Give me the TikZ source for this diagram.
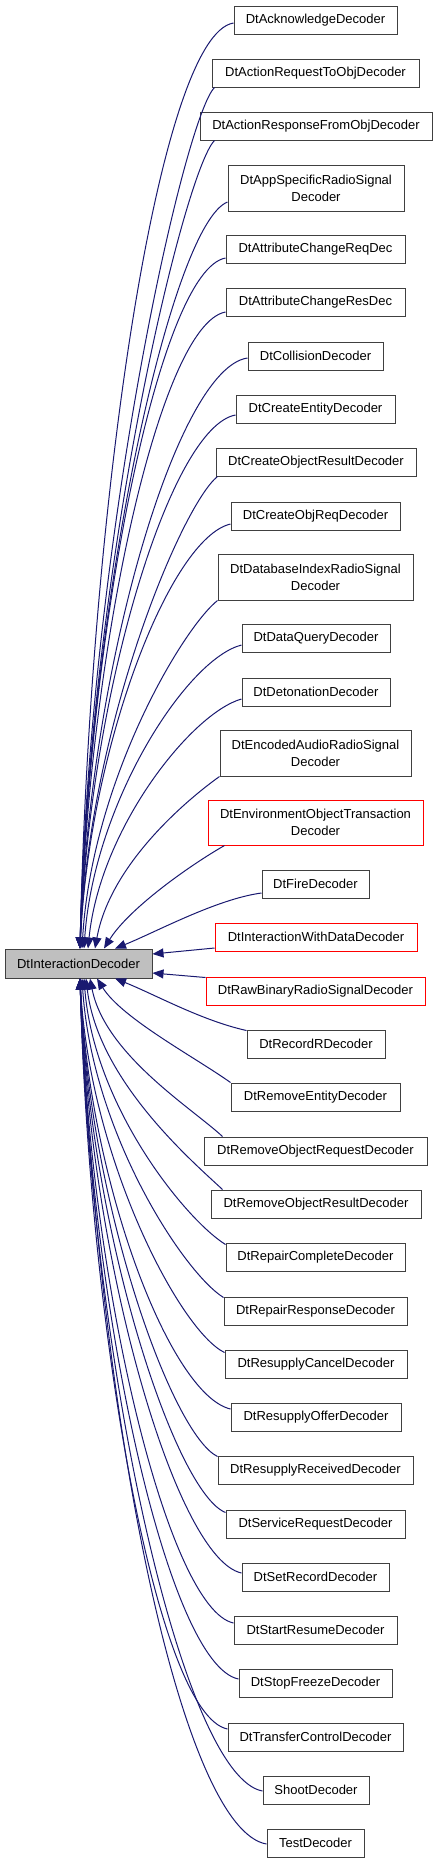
\documentclass[tikz,border=0pt]{standalone}
\usepackage{fontspec}
\setmainfont{Liberation Sans}
\usetikzlibrary{arrows.meta,calc}
\definecolor{edgec}{HTML}{191970}
\definecolor{boxc}{HTML}{404040}
\definecolor{parentfill}{HTML}{BFBFBF}
\tikzset{
  box/.style={draw=boxc, line width=1pt, fill=white, rectangle, inner sep=0pt,
    minimum height=28pt, align=center, font=\fontsize{13}{16.7}\selectfont},
  dbox/.style={box, minimum height=46pt},
  redbox/.style={draw=red},
  parentbox/.style={box, fill=parentfill, minimum height=29pt},
  edge/.style={draw=edgec, line width=1pt, arrows={Triangle[length=11pt,width=9pt]-}}
}
\begin{document}
\begin{tikzpicture}[x=1pt,y=-1pt]
\useasboundingbox (0,0) rectangle (437,1864);
% parent
\node[parentbox, minimum width=147] (P) at (78.5,963.5) {DtInteractionDecoder};
% children
\node[box, minimum width=163] (ack) at (315.5,20) {DtAcknowledgeDecoder};
\node[box, minimum width=207] (areq) at (315.5,73) {DtActionRequestToObjDecoder};
\node[box, minimum width=232] (aresp) at (316,126) {DtActionResponseFromObjDecoder};
\node[dbox, minimum width=176] (app) at (316,188) {DtAppSpecificRadioSignal\\Decoder};
\node[box, minimum width=179] (attrq) at (315.5,249) {DtAttributeChangeReqDec};
\node[box, minimum width=179] (attrs) at (315.5,302) {DtAttributeChangeResDec};
\node[box, minimum width=135] (coll) at (315.5,356) {DtCollisionDecoder};
\node[box, minimum width=159] (cent) at (315.5,409) {DtCreateEntityDecoder};
\node[box, minimum width=200] (cobjres) at (316,462) {DtCreateObjectResultDecoder};
\node[box, minimum width=169] (cobjreq) at (315.5,516) {DtCreateObjReqDecoder};
\node[dbox, minimum width=195] (dbi) at (315.5,577) {DtDatabaseIndexRadioSignal\\Decoder};
\node[box, minimum width=148] (dq) at (316,638) {DtDataQueryDecoder};
\node[box, minimum width=148] (det) at (316,692) {DtDetonationDecoder};
\node[dbox, minimum width=191] (enc) at (315.5,753) {DtEncodedAudioRadioSignal\\Decoder};
\node[dbox, redbox, minimum width=215, minimum height=45pt] (env) at (315.5,822.5) {DtEnvironmentObjectTransaction\\Decoder};
\node[box, minimum width=107] (fire) at (315.5,884) {DtFireDecoder};
\node[box, redbox, minimum width=202] (iwd) at (316,937) {DtInteractionWithDataDecoder};
\node[box, redbox, minimum width=219] (raw) at (315.5,991) {DtRawBinaryRadioSignalDecoder};
\node[box, minimum width=138] (recr) at (316,1044) {DtRecordRDecoder};
\node[box, minimum width=169] (rement) at (315.5,1097) {DtRemoveEntityDecoder};
\node[box, minimum width=223] (remoq) at (315.5,1151) {DtRemoveObjectRequestDecoder};
\node[box, minimum width=210] (remor) at (316,1204) {DtRemoveObjectResultDecoder};
\node[box, minimum width=179] (repc) at (315.5,1257) {DtRepairCompleteDecoder};
\node[box, minimum width=183] (repr) at (315.5,1311) {DtRepairResponseDecoder};
\node[box, minimum width=182] (resc) at (316,1364) {DtResupplyCancelDecoder};
\node[box, minimum width=170] (reso) at (316,1417) {DtResupplyOfferDecoder};
\node[box, minimum width=195] (resr) at (315.5,1470) {DtResupplyReceivedDecoder};
\node[box, minimum width=179] (serv) at (315.5,1524) {DtServiceRequestDecoder};
\node[box, minimum width=147] (setr) at (315.5,1577) {DtSetRecordDecoder};
\node[box, minimum width=163] (start) at (315.5,1630) {DtStartResumeDecoder};
\node[box, minimum width=153] (stop) at (315.5,1683) {DtStopFreezeDecoder};
\node[box, minimum width=175] (trans) at (315.5,1737) {DtTransferControlDecoder};
\node[box, minimum width=106] (shoot) at (316,1790) {ShootDecoder};
\node[box, minimum width=97] (test) at (315.5,1843) {TestDecoder};
% top edges
\draw[edge] ($(P.north)+(1.5,0)$) .. controls +(10,-445) and +(-75,12) .. ($(ack.west)+(0,3)$);
\draw[edge] ($(P.north)+(1.5,0)$) .. controls +(10,-414) and +(-30,30) .. ($(areq.south west)+(3,0)$);
\draw[edge] ($(P.north)+(1.5,0)$) .. controls +(10,-388) and +(-30,30) .. ($(aresp.south west)+(15,0)$);
\draw[edge] ($(P.north)+(1.5,0)$) .. controls +(10,-359) and +(-55,22) .. ($(app.west)+(0,14)$);
\draw[edge] ($(P.north)+(1.5,0)$) .. controls +(10,-332) and +(-65,12) .. ($(attrq.west)+(0,9)$);
\draw[edge] ($(P.north)+(1.5,0)$) .. controls +(10,-306) and +(-65,12) .. ($(attrs.west)+(0,10)$);
\draw[edge] ($(P.north)+(1.5,0)$) .. controls +(10,-284) and +(-70,10) .. ($(coll.west)+(0,2)$);
\draw[edge] ($(P.north)+(1.5,0)$) .. controls +(10,-256) and +(-65,12) .. ($(cent.west)+(0,6)$);
\draw[edge] ($(P.north)+(1.5,0)$) .. controls +(10,-227) and +(-35,28) .. ($(cobjres.south west)+(2,0)$);
\draw[edge] ($(P.north)+(1.5,0)$) .. controls +(10,-204) and +(-60,14) .. ($(cobjreq.west)+(0,8)$);
\draw[edge] ($(P.north)+(3.5,0)$) .. controls +(10,-168) and +(-35,28) .. (dbi.south west);
\draw[edge] ($(P.north)+(5.5,0)$) .. controls +(10,-146) and +(-55,14) .. ($(dq.west)+(0,7)$);
\draw[edge] ($(P.north)+(9.5,0)$) .. controls +(12,-120) and +(-50,14) .. ($(det.west)+(0,7)$);
\draw[edge] ($(P.north)+(16.5,0)$) .. controls +(15,-83) and +(-35,25) .. (enc.south west);
\draw[edge] ($(P.north)+(25.5,0)$) .. controls +(25,-40) and +(-35,20) .. ($(env.south west)+(17,0)$);
\draw[edge] ($(P.north)+(36.5,0)$) .. controls +(40,-16) and +(-45,6) .. ($(fire.west)+(0,9)$);
% middle edges
\draw[edge] ($(P.east)+(0,-9.5)$) -- ($(iwd.west)+(0,11)$);
\draw[edge] ($(P.east)+(0,9.5)$) -- ($(raw.north west)+(0,1)$);
% bottom edges
\draw[edge] ($(P.south)+(36.5,0)$) .. controls +(40,16) and +(-45,-10) .. ($(recr.north west)+(0,1)$);
\draw[edge] ($(P.south)+(18.5,0)$) .. controls +(25,40) and +(-35,-25) .. (rement.north west);
\draw[edge] ($(P.south)+(11.5,0)$) .. controls +(15,76) and +(-30,-28) .. ($(remoq.north west)+(19,0)$);
\draw[edge] ($(P.south)+(7.5,0)$) .. controls +(12,102) and +(-30,-28) .. ($(remor.north west)+(12,0)$);
\draw[edge] ($(P.south)+(5.5,0)$) .. controls +(10,128) and +(-40,-25) .. ($(repc.north west)+(0,2)$);
\draw[edge] ($(P.south)+(3.5,0)$) .. controls +(10,154) and +(-40,-25) .. ($(repr.north west)+(0,1)$);
\draw[edge] ($(P.south)+(1.5,0)$) .. controls +(10,180) and +(-45,-22) .. ($(resc.north west)+(0,3)$);
\draw[edge] ($(P.south)+(1.5,0)$) .. controls +(10,207) and +(-60,-14) .. ($(reso.west)+(0,-8)$);
\draw[edge] ($(P.south)+(1.5,0)$) .. controls +(10,230) and +(-45,-22) .. ($(resr.north west)+(0,1)$);
\draw[edge] ($(P.south)+(1.5,0)$) .. controls +(10,257) and +(-50,-20) .. ($(serv.north west)+(0,3)$);
\draw[edge] ($(P.south)+(1.5,0)$) .. controls +(10,286) and +(-65,-14) .. ($(setr.west)+(0,-4)$);
\draw[edge] ($(P.south)+(1.5,0)$) .. controls +(10,310) and +(-65,-14) .. ($(start.west)+(0,-7)$);
\draw[edge] ($(P.south)+(1.5,0)$) .. controls +(10,336) and +(-70,-14) .. ($(stop.west)+(0,-4)$);
\draw[edge] ($(P.south)+(1.5,0)$) .. controls +(10,360) and +(-70,-14) .. ($(trans.west)+(0,-8)$);
\draw[edge] ($(P.south)+(1.5,0)$) .. controls +(12,400) and +(-78,-14) .. ($(shoot.west)+(0,1)$);
\draw[edge] ($(P.south)+(1.5,0)$) .. controls +(20,470) and +(-82,-14) .. ($(test.west)+(0,1)$);
\end{tikzpicture}
\end{document}
